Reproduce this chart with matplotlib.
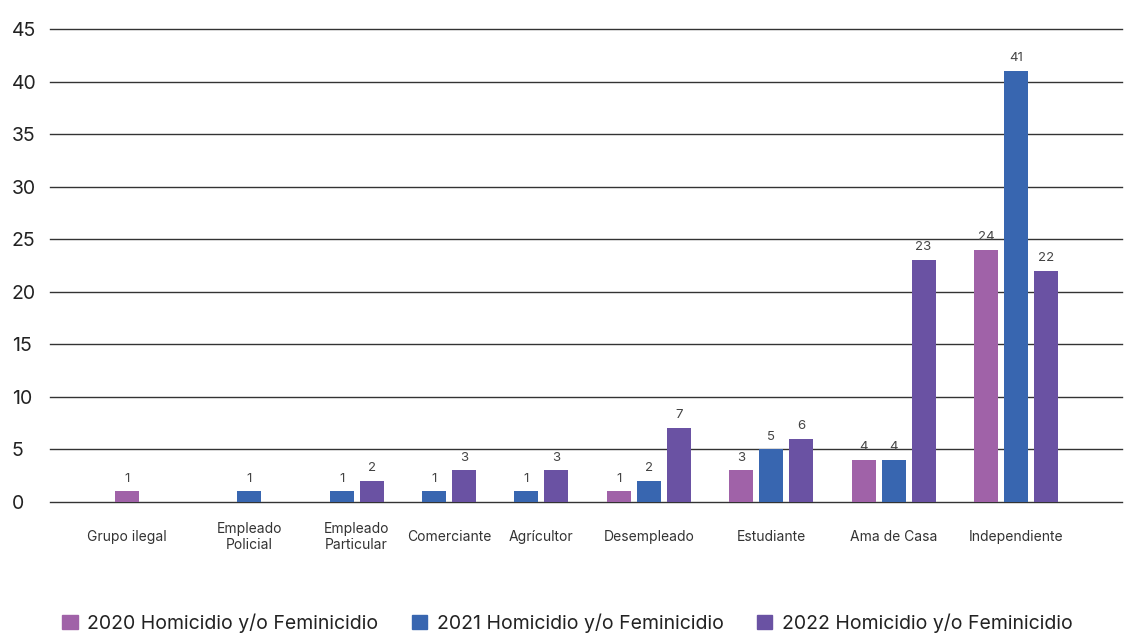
import matplotlib.pyplot as plt
from matplotlib.patches import Patch
from matplotlib.transforms import blended_transform_factory

plt.rcParams['font.family'] = ['Inter', 'DejaVu Sans']

# datos
categorias = ["Grupo ilegal", "Empleado\nPolicial", "Empleado\nParticular", "Comerciante",
              "Agrícultor", "Desempleado", "Estudiante", "Ama de Casa", "Independiente"]
series = ["2020 Homicidio y/o Feminicidio", "2021 Homicidio y/o Feminicidio",
          "2022 Homicidio y/o Feminicidio"]
v2020 = [1, 0, 0, 0, 0, 1, 3, 4, 24]
v2021 = [0, 1, 1, 1, 1, 2, 5, 4, 41]
v2022 = [0, 0, 2, 3, 3, 7, 6, 23, 22]
colores = ["#A062A8", "#3866B0", "#6A52A3"]

valores = [v2020, v2021, v2022]

fig = plt.figure(figsize=(11.26, 6.36), dpi=100)
ax = fig.add_axes([50 / 1126, (636 - 502) / 636, 1072 / 1126, 473 / 636])

# solo se dibujan las barras con valor; cada grupo se centra en su categoria
paso = 1.0
ancho = 0.8
x = 0.52
tr = blended_transform_factory(ax.transData, ax.transAxes)
for i, cat in enumerate(categorias):
    activos = [s for s in range(3) if valores[s][i] > 0]
    n = len(activos)
    ranuras = 2 if n == 2 else 3
    w = ranuras + 1.08
    centro = x + w / 2
    for k, s in enumerate(activos):
        xb = centro + (k - (n - 1) / 2) * paso
        v = valores[s][i]
        ax.bar(xb, v, width=ancho, color=colores[s], zorder=3)
        ax.annotate(str(v), (xb, v), xytext=(0, 5), textcoords="offset points",
                    ha="center", va="bottom", fontsize=9.5, color="#444444")
    ax.text(centro, -35 / 473, cat, transform=tr, ha="center", va="center",
            fontsize=10, color="#333333", linespacing=1.15)
    x += w

ax.set_xlim(0, 1072 / 30)
ax.set_ylim(0, 45)
for yv in range(0, 46, 5):
    ax.axhline(yv, color="#333333", lw=1, zorder=1, clip_on=False)
ax.set_yticks(range(0, 46, 5))
ax.tick_params(axis="y", length=0, pad=27.5, labelsize=14, labelcolor="#222222")
for lab in ax.get_yticklabels():
    lab.set_horizontalalignment("left")
ax.set_xticks([])
for sp in ax.spines.values():
    sp.set_visible(False)

handles = [Patch(color=c, label=l) for c, l in zip(colores, series)]
fig.legend(handles=handles, loc="center", bbox_to_anchor=(0.504, (636 - 623) / 636),
           ncol=3, frameon=False, fontsize=14, handlelength=0.8, handleheight=0.8,
           handletextpad=0.5, columnspacing=1.7, labelcolor="#222222")

fig.savefig("out.png", dpi=100)
